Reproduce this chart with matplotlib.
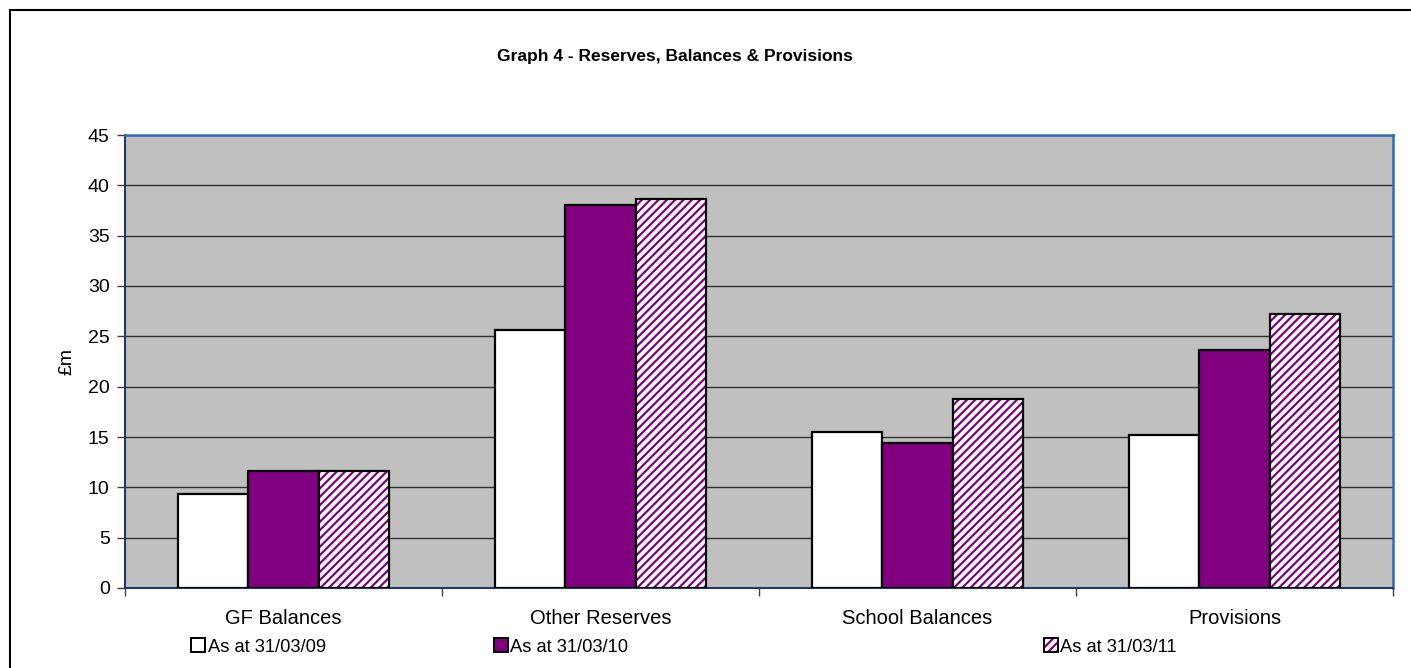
import matplotlib
matplotlib.use("Agg")
import matplotlib.pyplot as plt
from matplotlib.patches import Patch
from matplotlib.lines import Line2D
import numpy as np

plt.rcParams['font.family'] = ['Liberation Sans', 'DejaVu Sans']
plt.rcParams['hatch.linewidth'] = 1.6

categories = ["GF Balances", "Other Reserves", "School Balances", "Provisions"]
series_labels = ["As at 31/03/09", "As at 31/03/10", "As at 31/03/11"]
values_09 = [9.3, 25.6, 15.5, 15.2]
values_10 = [11.6, 38.0, 14.4, 23.6]
values_11 = [11.6, 38.6, 18.8, 27.2]
y_ticks = [0, 5, 10, 15, 20, 25, 30, 35, 40, 45]

PURPLE = "#800080"
W, H = 1411, 668
fig = plt.figure(figsize=(W / 100, H / 100), dpi=100)
ax = fig.add_axes([125 / W, 1 - 588 / H, (1393 - 125) / W, (588 - 135) / H])
ax.set_facecolor("#C0C0C0")

x = np.arange(len(categories))
bw = 0.222
edge_lw = 1.6

ax.bar(x - bw, values_09, bw, color="white", edgecolor="black", linewidth=edge_lw, zorder=3)
ax.bar(x, values_10, bw, color=PURPLE, edgecolor="black", linewidth=edge_lw, zorder=3)
ax.bar(x + bw, values_11, bw, color="white", edgecolor=PURPLE, hatch="////", linewidth=0, zorder=3)
ax.bar(x + bw, values_11, bw, fill=False, edgecolor="black", linewidth=edge_lw, zorder=4)

ax.set_xlim(-0.5, len(categories) - 0.5)
ax.set_ylim(0, 45)
ax.set_yticks(y_ticks)
ax.yaxis.grid(True, color="#303030", linewidth=1.0, zorder=1)
ax.set_axisbelow(True)

ax.set_xticks(x)
ax.set_xticklabels(categories, fontsize=14.5)
ax.tick_params(axis="x", length=0, pad=15)
ax.set_xticks(np.arange(-0.5, len(categories)), minor=True)
ax.tick_params(axis="x", which="minor", length=6, width=1, color="#404040", direction="out")
ax.tick_params(axis="y", length=6, width=1, color="#404040", direction="out", labelsize=14, pad=5)

for s in ["top", "right"]:
    ax.spines[s].set_color("#2F6CB5")
    ax.spines[s].set_linewidth(1.8)
for s in ["left", "bottom"]:
    ax.spines[s].set_color("#1F3A66")
    ax.spines[s].set_linewidth(1.5)

ax.set_ylabel("£m", fontsize=14, labelpad=9)

fig.text(675 / W, 1 - 56 / H, "Graph 4 - Reserves, Balances & Provisions",
         ha="center", va="center", fontsize=12.5, fontweight="bold")

# outer frame
fig.add_artist(Line2D([10 / W, 1], [1 - 10 / H, 1 - 10 / H], color="black", linewidth=1.5,
                      transform=fig.transFigure))
fig.add_artist(Line2D([10 / W, 10 / W], [0, 1 - 10 / H], color="black", linewidth=1.5,
                      transform=fig.transFigure))

# legend entries
h09 = Patch(facecolor="white", edgecolor="black", linewidth=1.4)
h10 = Patch(facecolor=PURPLE, edgecolor="black", linewidth=1.4)
h11a = Patch(facecolor="white", edgecolor=PURPLE, hatch="////", linewidth=0)
h11b = Patch(fill=False, edgecolor="black", linewidth=1.4)
handles = [h09, h10, (h11a, h11b)]
x_pos = [191, 494, 1044]
for hnd, lab, xp in zip(handles, series_labels, x_pos):
    lg = fig.legend([hnd], [lab], loc="center left",
                    bbox_to_anchor=(xp / W, 1 - 647 / H), frameon=False,
                    fontsize=13.2, handlelength=0.75, handleheight=0.75,
                    handletextpad=0.15, borderpad=0, borderaxespad=0)

fig.savefig("out.png", dpi=100)
